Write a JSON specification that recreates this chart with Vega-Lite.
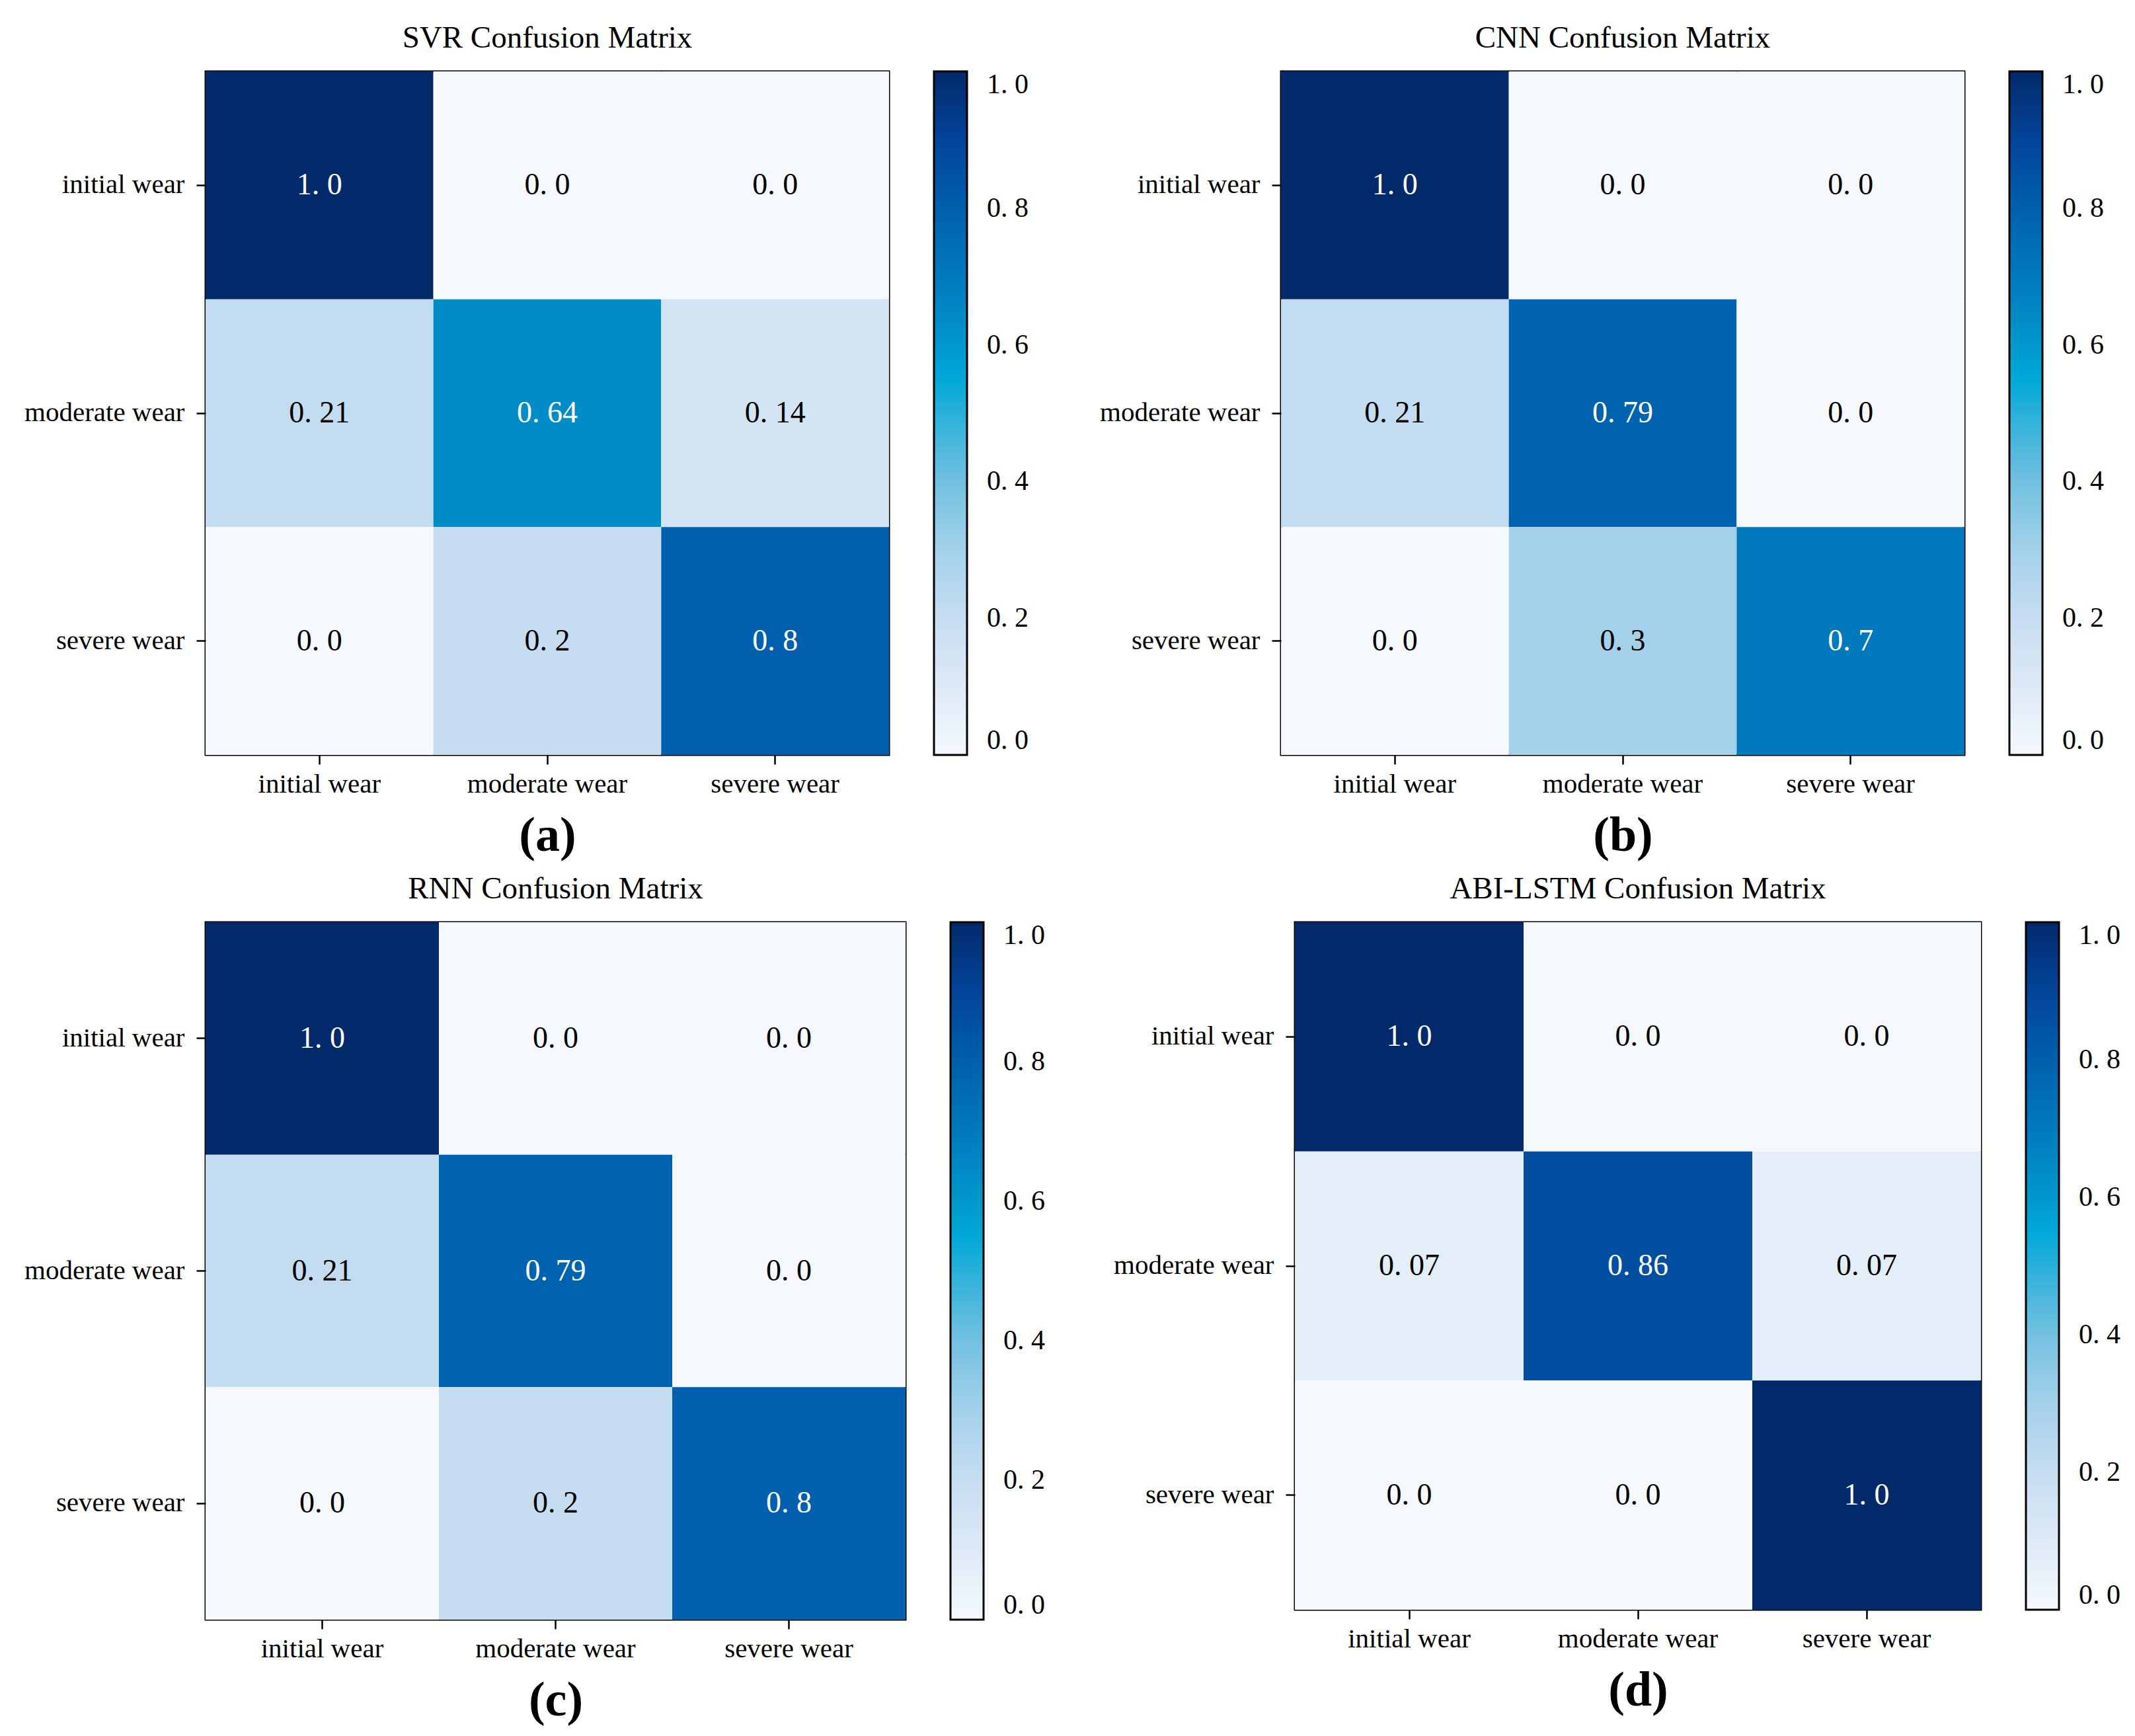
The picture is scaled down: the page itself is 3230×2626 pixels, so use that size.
{
  "$schema": "https://vega.github.io/schema/vega-lite/v6.json",
  "background": "white",
  "padding": {"left": 35, "top": 32, "right": 20, "bottom": 20},
  "datasets": {
    "cm": [
      {"m": "SVR", "a": "initial wear", "p": "initial wear", "v": 1.0, "t": "1. 0"},
      {"m": "SVR", "a": "initial wear", "p": "moderate wear", "v": 0.0, "t": "0. 0"},
      {"m": "SVR", "a": "initial wear", "p": "severe wear", "v": 0.0, "t": "0. 0"},
      {"m": "SVR", "a": "moderate wear", "p": "initial wear", "v": 0.21, "t": "0. 21"},
      {"m": "SVR", "a": "moderate wear", "p": "moderate wear", "v": 0.64, "t": "0. 64"},
      {"m": "SVR", "a": "moderate wear", "p": "severe wear", "v": 0.14, "t": "0. 14"},
      {"m": "SVR", "a": "severe wear", "p": "initial wear", "v": 0.0, "t": "0. 0"},
      {"m": "SVR", "a": "severe wear", "p": "moderate wear", "v": 0.2, "t": "0. 2"},
      {"m": "SVR", "a": "severe wear", "p": "severe wear", "v": 0.8, "t": "0. 8"},
      {"m": "CNN", "a": "initial wear", "p": "initial wear", "v": 1.0, "t": "1. 0"},
      {"m": "CNN", "a": "initial wear", "p": "moderate wear", "v": 0.0, "t": "0. 0"},
      {"m": "CNN", "a": "initial wear", "p": "severe wear", "v": 0.0, "t": "0. 0"},
      {"m": "CNN", "a": "moderate wear", "p": "initial wear", "v": 0.21, "t": "0. 21"},
      {"m": "CNN", "a": "moderate wear", "p": "moderate wear", "v": 0.79, "t": "0. 79"},
      {"m": "CNN", "a": "moderate wear", "p": "severe wear", "v": 0.0, "t": "0. 0"},
      {"m": "CNN", "a": "severe wear", "p": "initial wear", "v": 0.0, "t": "0. 0"},
      {"m": "CNN", "a": "severe wear", "p": "moderate wear", "v": 0.3, "t": "0. 3"},
      {"m": "CNN", "a": "severe wear", "p": "severe wear", "v": 0.7, "t": "0. 7"},
      {"m": "RNN", "a": "initial wear", "p": "initial wear", "v": 1.0, "t": "1. 0"},
      {"m": "RNN", "a": "initial wear", "p": "moderate wear", "v": 0.0, "t": "0. 0"},
      {"m": "RNN", "a": "initial wear", "p": "severe wear", "v": 0.0, "t": "0. 0"},
      {"m": "RNN", "a": "moderate wear", "p": "initial wear", "v": 0.21, "t": "0. 21"},
      {"m": "RNN", "a": "moderate wear", "p": "moderate wear", "v": 0.79, "t": "0. 79"},
      {"m": "RNN", "a": "moderate wear", "p": "severe wear", "v": 0.0, "t": "0. 0"},
      {"m": "RNN", "a": "severe wear", "p": "initial wear", "v": 0.0, "t": "0. 0"},
      {"m": "RNN", "a": "severe wear", "p": "moderate wear", "v": 0.2, "t": "0. 2"},
      {"m": "RNN", "a": "severe wear", "p": "severe wear", "v": 0.8, "t": "0. 8"},
      {"m": "ABI-LSTM", "a": "initial wear", "p": "initial wear", "v": 1.0, "t": "1. 0"},
      {"m": "ABI-LSTM", "a": "initial wear", "p": "moderate wear", "v": 0.0, "t": "0. 0"},
      {"m": "ABI-LSTM", "a": "initial wear", "p": "severe wear", "v": 0.0, "t": "0. 0"},
      {"m": "ABI-LSTM", "a": "moderate wear", "p": "initial wear", "v": 0.07, "t": "0. 07"},
      {"m": "ABI-LSTM", "a": "moderate wear", "p": "moderate wear", "v": 0.86, "t": "0. 86"},
      {"m": "ABI-LSTM", "a": "moderate wear", "p": "severe wear", "v": 0.07, "t": "0. 07"},
      {"m": "ABI-LSTM", "a": "severe wear", "p": "initial wear", "v": 0.0, "t": "0. 0"},
      {"m": "ABI-LSTM", "a": "severe wear", "p": "moderate wear", "v": 0.0, "t": "0. 0"},
      {"m": "ABI-LSTM", "a": "severe wear", "p": "severe wear", "v": 1.0, "t": "1. 0"}
    ]
  },
  "config": {
    "view": {"stroke": "black", "strokeWidth": 3},
    "font": "Liberation Serif",
    "axis": {"grid": false, "domain": false, "tickColor": "black", "tickSize": 14, "tickWidth": 2.5, "labelFont": "Liberation Serif", "labelFontSize": 41, "labelColor": "black", "labelAngle": 0, "labelPadding": 10, "labelLimit": 0, "titleFont": "Liberation Serif", "titleFontWeight": "bold", "titleFontSize": 74, "titleColor": "black", "titlePadding": 22},
    "title": {"font": "Liberation Serif", "fontSize": 47, "fontWeight": "normal", "color": "black", "offset": 26},
    "legend": {"orient": "right", "offset": 68, "direction": "vertical", "gradientThickness": 50, "gradientStrokeColor": "black", "gradientStrokeWidth": 3, "labelFont": "Liberation Serif", "labelFontSize": 42, "labelColor": "black", "padding": 0},
    "scale": {"bandPaddingInner": 0, "bandPaddingOuter": 0}
  },
  "resolve": {"scale": {"color": "independent"}},
  "spacing": 16,
  "vconcat": [
    {
      "spacing": 104,
      "resolve": {"scale": {"color": "independent"}},
      "hconcat": [
        {
          "width": 1034, "height": 1034,
          "title": "SVR Confusion Matrix",
          "data": {"name": "cm"},
          "transform": [{"filter": "datum.m === 'SVR'"}],
          "encoding": {
            "x": {"field": "p", "type": "nominal", "sort": ["initial wear", "moderate wear", "severe wear"], "scale": {"paddingInner": 0, "paddingOuter": 0}, "axis": {"title": "(a)"}},
            "y": {"field": "a", "type": "nominal", "sort": ["initial wear", "moderate wear", "severe wear"], "scale": {"paddingInner": 0, "paddingOuter": 0}, "axis": {"title": null, "labelPadding": 18}}
          },
          "layer": [
            {"mark": {"type": "rect"}, "encoding": {"color": {"field": "v", "type": "quantitative", "scale": {"domain": [0, 0.1, 0.2, 0.3, 0.4, 0.5, 0.55, 0.6, 0.7, 0.8, 0.9, 1], "range": ["#f5f9fe", "#dde9f6", "#c6ddf1", "#a3d1ea", "#72c0e0", "#29b0da", "#00a8d8", "#0098cc", "#0079bd", "#0060ad", "#03449a", "#022a6a"], "interpolate": "rgb"}, "legend": {"title": null, "gradientLength": 1034, "labelOffset": 30, "labelBaseline": "middle", "values": [0, 0.2, 0.4, 0.6, 0.8, 1], "labelExpr": "replace(format(datum.value, '.1f'), '.', '. ')"}}}},
            {"mark": {"type": "text", "font": "Liberation Serif", "fontSize": 46}, "encoding": {"text": {"field": "t"}, "color": {"condition": {"test": "datum.v > 0.5", "value": "white"}, "value": "black"}}}
          ]
        },
        {
          "width": 1034, "height": 1034,
          "title": "CNN Confusion Matrix",
          "data": {"name": "cm"},
          "transform": [{"filter": "datum.m === 'CNN'"}],
          "encoding": {
            "x": {"field": "p", "type": "nominal", "sort": ["initial wear", "moderate wear", "severe wear"], "scale": {"paddingInner": 0, "paddingOuter": 0}, "axis": {"title": "(b)"}},
            "y": {"field": "a", "type": "nominal", "sort": ["initial wear", "moderate wear", "severe wear"], "scale": {"paddingInner": 0, "paddingOuter": 0}, "axis": {"title": null, "labelPadding": 18}}
          },
          "layer": [
            {"mark": {"type": "rect"}, "encoding": {"color": {"field": "v", "type": "quantitative", "scale": {"domain": [0, 0.1, 0.2, 0.3, 0.4, 0.5, 0.55, 0.6, 0.7, 0.8, 0.9, 1], "range": ["#f5f9fe", "#dde9f6", "#c6ddf1", "#a3d1ea", "#72c0e0", "#29b0da", "#00a8d8", "#0098cc", "#0079bd", "#0060ad", "#03449a", "#022a6a"], "interpolate": "rgb"}, "legend": {"title": null, "gradientLength": 1034, "labelOffset": 30, "labelBaseline": "middle", "values": [0, 0.2, 0.4, 0.6, 0.8, 1], "labelExpr": "replace(format(datum.value, '.1f'), '.', '. ')"}}}},
            {"mark": {"type": "text", "font": "Liberation Serif", "fontSize": 46}, "encoding": {"text": {"field": "t"}, "color": {"condition": {"test": "datum.v > 0.5", "value": "white"}, "value": "black"}}}
          ]
        }
      ]
    },
    {
      "spacing": 100,
      "resolve": {"scale": {"color": "independent"}},
      "hconcat": [
        {
          "width": 1059, "height": 1055,
          "title": "RNN Confusion Matrix",
          "data": {"name": "cm"},
          "transform": [{"filter": "datum.m === 'RNN'"}],
          "encoding": {
            "x": {"field": "p", "type": "nominal", "sort": ["initial wear", "moderate wear", "severe wear"], "scale": {"paddingInner": 0, "paddingOuter": 0}, "axis": {"title": "(c)"}},
            "y": {"field": "a", "type": "nominal", "sort": ["initial wear", "moderate wear", "severe wear"], "scale": {"paddingInner": 0, "paddingOuter": 0}, "axis": {"title": null, "labelPadding": 18}}
          },
          "layer": [
            {"mark": {"type": "rect"}, "encoding": {"color": {"field": "v", "type": "quantitative", "scale": {"domain": [0, 0.1, 0.2, 0.3, 0.4, 0.5, 0.55, 0.6, 0.7, 0.8, 0.9, 1], "range": ["#f5f9fe", "#dde9f6", "#c6ddf1", "#a3d1ea", "#72c0e0", "#29b0da", "#00a8d8", "#0098cc", "#0079bd", "#0060ad", "#03449a", "#022a6a"], "interpolate": "rgb"}, "legend": {"title": null, "gradientLength": 1055, "labelOffset": 30, "labelBaseline": "middle", "values": [0, 0.2, 0.4, 0.6, 0.8, 1], "labelExpr": "replace(format(datum.value, '.1f'), '.', '. ')"}}}},
            {"mark": {"type": "text", "font": "Liberation Serif", "fontSize": 46}, "encoding": {"text": {"field": "t"}, "color": {"condition": {"test": "datum.v > 0.5", "value": "white"}, "value": "black"}}}
          ]
        },
        {
          "width": 1038, "height": 1040,
          "title": "ABI-LSTM Confusion Matrix",
          "data": {"name": "cm"},
          "transform": [{"filter": "datum.m === 'ABI-LSTM'"}],
          "encoding": {
            "x": {"field": "p", "type": "nominal", "sort": ["initial wear", "moderate wear", "severe wear"], "scale": {"paddingInner": 0, "paddingOuter": 0}, "axis": {"title": "(d)"}},
            "y": {"field": "a", "type": "nominal", "sort": ["initial wear", "moderate wear", "severe wear"], "scale": {"paddingInner": 0, "paddingOuter": 0}, "axis": {"title": null, "labelPadding": 18}}
          },
          "layer": [
            {"mark": {"type": "rect"}, "encoding": {"color": {"field": "v", "type": "quantitative", "scale": {"domain": [0, 0.1, 0.2, 0.3, 0.4, 0.5, 0.55, 0.6, 0.7, 0.8, 0.9, 1], "range": ["#f5f9fe", "#dde9f6", "#c6ddf1", "#a3d1ea", "#72c0e0", "#29b0da", "#00a8d8", "#0098cc", "#0079bd", "#0060ad", "#03449a", "#022a6a"], "interpolate": "rgb"}, "legend": {"title": null, "gradientLength": 1040, "labelOffset": 30, "labelBaseline": "middle", "values": [0, 0.2, 0.4, 0.6, 0.8, 1], "labelExpr": "replace(format(datum.value, '.1f'), '.', '. ')"}}}},
            {"mark": {"type": "text", "font": "Liberation Serif", "fontSize": 46}, "encoding": {"text": {"field": "t"}, "color": {"condition": {"test": "datum.v > 0.5", "value": "white"}, "value": "black"}}}
          ]
        }
      ]
    }
  ]
}
